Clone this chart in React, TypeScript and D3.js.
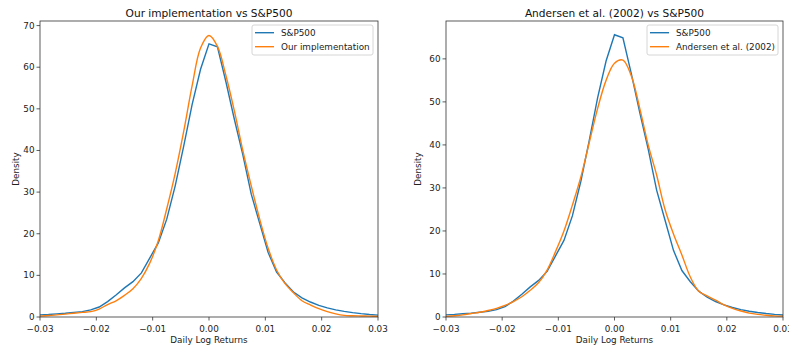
import * as d3 from "d3";

// daily log return grid (step 0.0015)
const RETURNS = d3.range(41).map((i) => -0.03 + i * 0.0015);

const SP500 = [
  0.5, 0.6, 0.75, 0.9, 1.1, 1.3, 1.7, 2.4, 3.7, 5.3, 7.0, 8.5, 10.6, 14.2, 17.8, 23.5, 31.5, 41.0,
  51.0, 59.5, 65.6, 64.9, 56.5, 47.5, 39.0, 29.5, 22.5, 15.5, 10.8, 8.2, 6.0, 4.6, 3.6, 2.8, 2.2,
  1.7, 1.35, 1.05, 0.8, 0.6, 0.45,
];

const OUR_IMPL = [
  0.2, 0.35, 0.5, 0.7, 0.9, 1.1, 1.3, 1.9, 3.0, 3.9, 5.2, 6.8, 9.3, 13.0, 18.3, 26.0, 34.5, 44.5,
  55.5, 64.6, 67.6, 65.0, 58.0, 49.5, 40.0, 31.5, 23.5, 16.5, 11.3, 8.0, 5.8, 3.9, 2.9, 2.0, 1.3,
  0.75, 0.4, 0.3, 0.25, 0.2, 0.15,
];

const ANDERSEN = [
  0.15, 0.3, 0.5, 0.8, 1.1, 1.5, 2.0, 2.7, 3.6, 4.7, 6.2, 8.0, 10.9, 15.2, 20.0, 26.0, 32.5, 40.5,
  48.5, 55.0, 59.0, 59.7, 56.0, 48.5, 40.0, 33.0, 25.0, 19.3, 14.4, 9.3, 6.0, 4.9, 3.9, 2.8, 2.0,
  1.4, 0.9, 0.6, 0.4, 0.25, 0.2,
];

const X_TICKS = [-0.03, -0.02, -0.01, 0, 0.01, 0.02, 0.03];
const LEFT_Y_TICKS = [0, 10, 20, 30, 40, 50, 60, 70];
const RIGHT_Y_TICKS = [0, 10, 20, 30, 40, 50, 60];

const BLUE = "#1f77b4";
const ORANGE = "#ff7f0e";
const FONT = "'DejaVu Sans', sans-serif";
const FS = 8.8;

type PanelProps = {
  left: number;
  right: number;
  title: string;
  model: number[];
  modelLabel: string;
  yMax: number;
  yTicks: number[];
  legendWidth: number;
  yLabelX: number;
};

function Panel({ left, right, title, model, modelLabel, yMax, yTicks, legendWidth, yLabelX }: PanelProps) {
  const top = 21;
  const bottom = 317;
  const x = d3.scaleLinear().domain([-0.03, 0.03]).range([left, right]);
  const y = d3.scaleLinear().domain([0, yMax]).range([bottom, top]);
  const fmt = d3.format(".2f");

  const blueLine = d3
    .line<number>()
    .x((_, i) => x(RETURNS[i]))
    .y((d) => y(d))
    .curve(d3.curveLinear);
  const orangeLine = d3
    .line<number>()
    .x((_, i) => x(RETURNS[i]))
    .y((d) => y(d))
    .curve(d3.curveCatmullRom);

  const cx = (left + right) / 2;
  const lx = right - 5 - legendWidth;

  return (
    <g fontFamily={FONT}>
      <text x={cx} y={16.5} fontSize={10.6} textAnchor="middle" fill="#111">
        {title}
      </text>
      <defs>
        <clipPath id={`clip-${left}`}>
          <rect x={left} y={top} width={right - left} height={bottom - top} />
        </clipPath>
      </defs>
      <g clipPath={`url(#clip-${left})`}>
        <path d={blueLine(SP500) ?? ""} fill="none" stroke={BLUE} strokeWidth={1.4} />
        <path d={orangeLine(model) ?? ""} fill="none" stroke={ORANGE} strokeWidth={1.4} />
      </g>
      <rect x={left} y={top} width={right - left} height={bottom - top} fill="none" stroke="#333" strokeWidth={0.8} />
      {X_TICKS.map((t) => (
        <g key={t}>
          <line x1={x(t)} x2={x(t)} y1={bottom} y2={bottom + 3.5} stroke="#333" strokeWidth={0.8} />
          <text x={x(t)} y={331.5} fontSize={FS} textAnchor="middle" fill="#222">
            {fmt(t)}
          </text>
        </g>
      ))}
      {yTicks.map((t) => (
        <g key={t}>
          <line x1={left - 3.5} x2={left} y1={y(t)} y2={y(t)} stroke="#333" strokeWidth={0.8} />
          <text x={left - 5.5} y={y(t)} dy="0.34em" fontSize={FS} textAnchor="end" fill="#222">
            {t}
          </text>
        </g>
      ))}
      <text x={cx} y={343} fontSize={FS} textAnchor="middle" fill="#222">
        Daily Log Returns
      </text>
      <text
        transform={`translate(${yLabelX},${(top + bottom) / 2}) rotate(-90)`}
        fontSize={FS}
        textAnchor="middle"
        fill="#222"
      >
        Density
      </text>
      <g>
        <rect x={lx} y={25} width={legendWidth} height={30} rx={2} fill="white" fillOpacity={0.8} stroke="#ccc" strokeWidth={0.8} />
        <line x1={lx + 3} x2={lx + 22} y1={32.7} y2={32.7} stroke={BLUE} strokeWidth={1.4} />
        <line x1={lx + 3} x2={lx + 22} y1={46.7} y2={46.7} stroke={ORANGE} strokeWidth={1.4} />
        <text x={lx + 29} y={32.7} dy="0.34em" fontSize={FS} fill="#222">
          S&amp;P500
        </text>
        <text x={lx + 29} y={46.7} dy="0.34em" fontSize={FS} fill="#222">
          {modelLabel}
        </text>
      </g>
    </g>
  );
}

export default function App() {
  return (
    <>
      <style>{`body{margin:0;background:#fff}`}</style>
      <svg width={789} height={350} style={{ display: "block" }}>
        <rect width={789} height={350} fill="white" />
        <Panel
          left={40}
          right={378}
          title="Our implementation vs S&P500"
          model={OUR_IMPL}
          modelLabel="Our implementation"
          yMax={71.1}
          yTicks={LEFT_Y_TICKS}
          legendWidth={121}
          yLabelX={19}
        />
        <Panel
          left={446}
          right={783}
          title="Andersen et al. (2002) vs S&P500"
          model={ANDERSEN}
          modelLabel="Andersen et al. (2002)"
          yMax={68.8}
          yTicks={RIGHT_Y_TICKS}
          legendWidth={131}
          yLabelX={421}
        />
      </svg>
    </>
  );
}
